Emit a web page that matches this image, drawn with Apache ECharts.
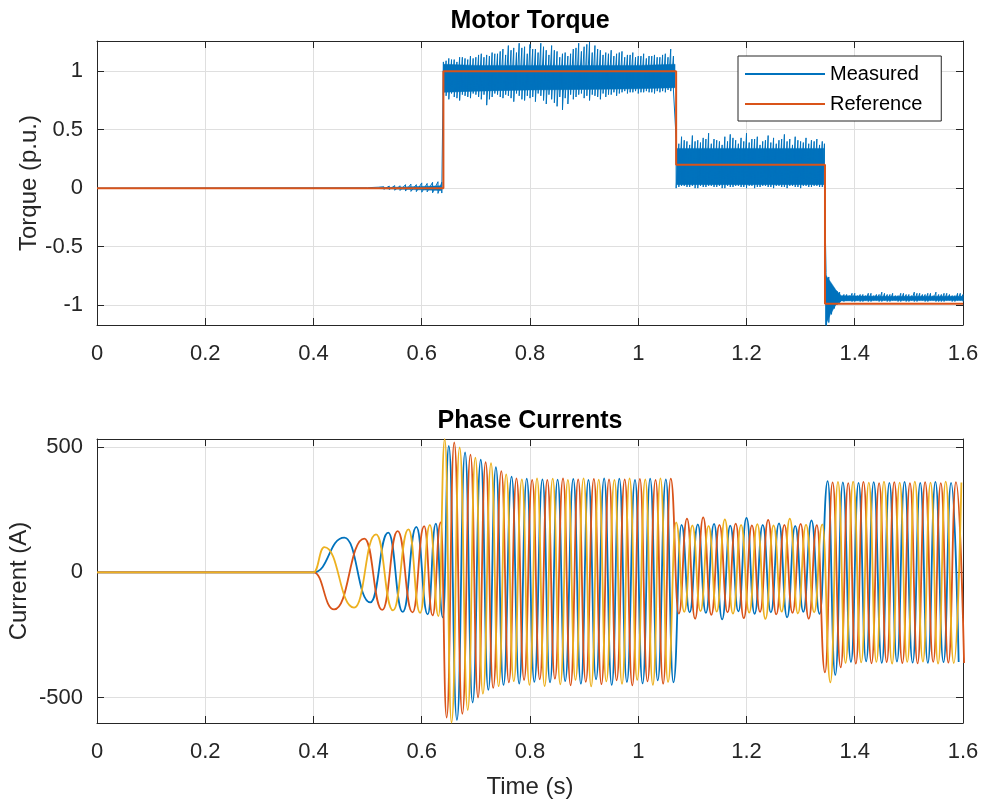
<!DOCTYPE html>
<html><head><meta charset="utf-8">
<script src="https://cdn.jsdelivr.net/npm/echarts@6/dist/echarts.min.js"></script>
<style>html,body{margin:0;padding:0;background:#fff}#c{width:985px;height:804px}</style>
</head><body><div id="c"></div>
<script>
// ---------------- DATA ----------------
// Motor torque, measured: spike tips (hi) and spike bottoms (lo) at sample times (ms)
const tqT = [0,500,510,520,530,540,550,560,570,580,590,600,610,620,630,637,
  640,650,660,670,680,690,700,710,720,730,740,750,760,770,780,790,800,810,820,830,840,850,860,870,880,890,900,910,920,930,940,950,960,970,980,990,1000,1010,1020,1030,1040,1050,1060,1065,
  1070,1080,1090,1100,1110,1120,1130,1140,1150,1160,1170,1180,1190,1200,1210,1220,1230,1240,1250,1260,1270,1280,1290,1300,1310,1320,1330,1340,1344,
  1347,1352,1357,1362,1367,1372,1380,1390,1400,1410,1420,1430,1440,1450,1460,1470,1480,1490,1500,1510,1520,1530,1540,1550,1560,1570,1580,1590,1600];
const tqHi = [0,0.003,0.006,0.008,0.012,0.018,0.022,0.02,0.03,0.035,0.03,0.045,0.04,0.05,0.055,0.05,
  1.08,1.11,1.10,1.12,1.11,1.13,1.12,1.15,1.14,1.16,1.15,1.19,1.22,1.20,1.24,1.21,1.23,1.19,1.24,1.18,1.22,1.17,1.15,1.13,1.19,1.24,1.21,1.25,1.22,1.18,1.16,1.18,1.15,1.17,1.14,1.16,1.13,1.15,1.13,1.14,1.12,1.15,1.19,1.13,
  0.42,0.44,0.40,0.45,0.41,0.43,0.47,0.42,0.40,0.44,0.46,0.41,0.43,0.47,0.42,0.44,0.40,0.45,0.43,0.41,0.46,0.42,0.44,0.40,0.43,0.41,0.42,0.40,0.38,
  -0.72,-0.76,-0.82,-0.86,-0.88,-0.89,-0.91,-0.92,-0.90,-0.91,-0.92,-0.90,-0.91,-0.89,-0.91,-0.90,-0.92,-0.90,-0.91,-0.89,-0.90,-0.91,-0.90,-0.89,-0.91,-0.90,-0.92,-0.90,-0.91];
const tqLo = [0,-0.003,-0.005,-0.008,-0.01,-0.012,-0.018,-0.02,-0.025,-0.028,-0.03,-0.035,-0.032,-0.04,-0.045,-0.042,
  0.80,0.76,0.78,0.75,0.79,0.77,0.80,0.76,0.71,0.78,0.80,0.77,0.79,0.74,0.79,0.75,0.77,0.74,0.79,0.72,0.76,0.70,0.67,0.72,0.76,0.80,0.77,0.75,0.79,0.76,0.78,0.80,0.79,0.82,0.81,0.82,0.81,0.82,0.82,0.81,0.82,0.82,0.83,0.84,
  0.00,0.02,0.01,0.02,0.00,0.01,0.02,0.01,0.02,0.00,0.01,0.02,0.01,0.00,0.02,0.01,0.02,0.01,0.00,0.02,0.01,0.02,0.01,0.00,0.02,0.01,0.02,0.01,0.02,
  -1.25,-1.15,-1.08,-1.03,-1.00,-0.98,-0.97,-0.96,-0.97,-0.97,-0.96,-0.97,-0.96,-0.97,-0.97,-0.96,-0.97,-0.96,-0.97,-0.97,-0.96,-0.97,-0.96,-0.97,-0.97,-0.96,-0.97,-0.96,-0.97];
// In-between (smaller) spikes of the measured torque
const tqT2 = [645,655,665,675,685,695,705,715,725,735,745,755,765,775,785,795,805,815,825,835,845,855,865,875,885,895,905,915,925,935,945,955,965,975,985,995,1005,1015,1025,1035,1045,1055,
  1075,1085,1095,1105,1115,1125,1135,1145,1155,1165,1175,1185,1195,1205,1215,1225,1235,1245,1255,1265,1275,1285,1295,1305,1315,1325,1335,
  1385,1395,1405,1415,1425,1435,1445,1455,1465,1475,1485,1495,1505,1515,1525,1535,1545,1555,1565,1575,1585,1595];
const tqHi2 = [1.09,1.10,1.08,1.12,1.10,1.11,1.14,1.12,1.13,1.15,1.17,1.14,1.18,1.16,1.20,1.15,1.19,1.16,1.21,1.14,1.18,1.12,1.16,1.15,1.20,1.17,1.23,1.16,1.19,1.14,1.15,1.13,1.16,1.12,1.14,1.12,1.13,1.11,1.13,1.12,1.14,1.12,
  0.38,0.41,0.37,0.40,0.39,0.42,0.38,0.41,0.37,0.40,0.43,0.38,0.40,0.39,0.42,0.37,0.41,0.39,0.38,0.42,0.40,0.37,0.41,0.39,0.38,0.40,0.37,
  -0.91,-0.90,-0.92,-0.91,-0.90,-0.92,-0.91,-0.90,-0.91,-0.92,-0.90,-0.91,-0.92,-0.90,-0.91,-0.90,-0.92,-0.91,-0.90,-0.91,-0.92,-0.90];
const tqLo2 = [0.79,0.81,0.77,0.80,0.78,0.81,0.78,0.80,0.76,0.81,0.78,0.80,0.77,0.81,0.76,0.79,0.78,0.81,0.75,0.80,0.73,0.78,0.77,0.80,0.78,0.81,0.79,0.80,0.78,0.81,0.80,0.82,0.81,0.83,0.82,0.83,0.82,0.83,0.82,0.83,0.83,0.84,
  0.01,0.02,0.01,0.00,0.02,0.01,0.02,0.01,0.00,0.02,0.01,0.02,0.01,0.02,0.00,0.01,0.02,0.01,0.02,0.01,0.00,0.02,0.01,0.02,0.01,0.02,0.01,
  -0.96,-0.97,-0.96,-0.97,-0.97,-0.96,-0.97,-0.96,-0.97,-0.96,-0.97,-0.97,-0.96,-0.97,-0.96,-0.97,-0.96,-0.97,-0.97,-0.96,-0.97,-0.96];

// Measured torque dense core band (solid region), per segment
const coreT0 = [0.52,0.58,0.636],  coreHi0 = [0.003,0.012,0.02],  coreLo0 = [-0.003,-0.012,-0.02];
const coreT1 = [0.641,0.70,0.80,0.90,1.00,1.068], coreHi1 = [1.06,1.05,1.05,1.05,1.05,1.06], coreLo1 = [0.82,0.83,0.84,0.845,0.85,0.86];
const coreT2 = [1.071,1.20,1.343], coreHi2 = [0.34,0.34,0.34], coreLo2 = [0.03,0.03,0.03];
const coreT3 = [1.346,1.355,1.365,1.375,1.45,1.6], coreHi3 = [-0.74,-0.80,-0.87,-0.92,-0.925,-0.925], coreLo3 = [-1.17,-1.08,-1.0,-0.965,-0.962,-0.962];

// Torque reference (step profile)
const refT = [0,0.64,0.64,1.07,1.07,1.345,1.345,1.6];
const refV = [0,0,1,1,0.2,0.2,-0.99,-0.99];

// Phase currents: all phases at zero before start
const curStartT = [0, 400];
const curStartV = [0, 0];
// Successive current extrema of all three phases (ms, A); they rotate c, b, a, c, b, a ...
const extT = [420,438,457,475,494,505,515.5,527,538,547,555.5,565,575.5,583,590,597,604.5,611,615,620,626,631,635,639,
  642.5,646,650,655,660,665,670,675,680,685,690,694,699,704,709,713,718,723,728,732,737,742,747,751,756,761,766,770,775,780,
  785,789,794,799,804,808,813,818,823,827,832,837,842,846,851,856,861,865,870,875,880,884,889,894,899,903,908,913,918,922,
  927,932,937,941,946,951,956,960,965,970,975,979,984,989,994,998,1003,1008,1013,1017,1022,1027,1032,1036,1041,1046,1051,1055,1060,1065,
  1070,1075,1080,1085,1090,1095,1100,1105,1110,1115,1120,1125,1130,1135,1140,1145,1150,1155,1160,1165,1170,1175,1180,1185,1190,1195,
  1200,1205,1210,1215,1220,1225,1230,1235,1240,1245,1250,1255,1260,1265,1270,1275,1280,1285,1290,1295,1300,1305,1310,1315,1320,1325,1330,1335,1340,
  1345,1350,1355,1359,1364,1369,1374,1378,1383,1388,1393,1397,1402,1407,1412,1416,1421,1426,1431,1435,1440,1445,1450,1454,1459,1464,1469,
  1473,1478,1483,1488,1492,1497,1502,1507,1511,1516,1521,1526,1530,1535,1540,1545,1549,1554,1559,1564,1568,1573,1578,1583,1587,1592,1597,1602];
const extV = [101,-148,139,-141,135,-120,152,-150,159,-152,165,-158,172,-160,182,-162,185,-168,190,-172,195,-175,200,-180,
  532,-580,505,-600,519,-590,499,-565,479,-550,470,-520,458,-500,450,-485,440,-470,436,-462,420,-455,405,-450,392,-440,383,-435,376,-445,
  372,-430,375,-450,370,-438,376,-428,372,-455,370,-440,375,-425,371,-448,376,-435,370,-452,374,-430,372,-445,376,-438,370,-456,
  374,-428,371,-447,376,-436,372,-450,370,-432,375,-446,372,-438,376,-452,370,-430,374,-444,372,-436,375,-450,370,-432,376,-445,372,-438,375,-440,
  200,-165,190,-158,215,-160,188,-185,192,-155,220,-162,186,-170,194,-157,190,-188,212,-160,187,-165,195,-156,190,-183,218,-161,
  188,-166,193,-158,190,-186,210,-160,188,-168,196,-157,190,-180,215,-162,186,-164,194,-158,191,-185,208,-160,189,-166,192,
  -400,365,-440,360,-410,362,-380,360,-362,357,-358,363,-365,358,-360,362,-356,359,-364,361,-358,357,-362,363,-359,358,-365,
  361,-357,359,-363,362,-358,357,-361,363,-364,358,-357,361,-362,359,-358,362,-365,357,-359,363,-361,358,-363,361,-358,359,-362];

// Axis tick values
const xTicks = [0,0.2,0.4,0.6,0.8,1,1.2,1.4,1.6];
const tqTicks = [-1,-0.5,0,0.5,1];
const curTicks = [-500,0,500];

// ---------------- BUILD ----------------
const FONT = '"Liberation Sans", Arial, Helvetica, sans-serif';
const AX = '#262626';
const GRIDC = '#dfdfdf';
const BLUE = '#0072BD', RED = '#D95319', YEL = '#EDB120';

const samples = [];
tqT.forEach((t, i) => samples.push([t, tqHi[i], tqLo[i]]));
tqT2.forEach((t, i) => samples.push([t, tqHi2[i], tqLo2[i]]));
samples.sort((a, b) => a[0] - b[0]);
const measured = [];
samples.forEach(s => { measured.push([s[0] / 1000, s[1]]); measured.push([s[0] / 1000, s[2]]); });

const coreSegs = [
  {t: coreT0, hi: coreHi0, lo: coreLo0},
  {t: coreT1, hi: coreHi1, lo: coreLo1},
  {t: coreT2, hi: coreHi2, lo: coreLo2},
  {t: coreT3, hi: coreHi3, lo: coreLo3}
];
const reference = refT.map((t, i) => [t, refV[i]]);

const ia = curStartT.map((t, i) => [t / 1000, curStartV[i]]);
const ib = curStartT.map((t, i) => [t / 1000, curStartV[i]]);
const ic = curStartT.map((t, i) => [t / 1000, curStartV[i]]);
const phaseOrder = [ic, ib, ia];
extT.forEach((t, k) => { phaseOrder[k % 3].push([t / 1000, extV[k]]); });

function xAxes(gridIndex, withName) {
  return [{
    type: 'value', gridIndex, min: 0, max: 1.6, position: 'bottom',
    axisLine: {show: true, onZero: false, lineStyle: {color: AX, width: 1}},
    axisTick: {show: true, inside: true, length: 7, customValues: xTicks, lineStyle: {color: AX}},
    axisLabel: {show: true, customValues: xTicks, color: AX, fontSize: 22, fontFamily: FONT, margin: 18},
    splitLine: {show: true, lineStyle: {color: GRIDC, width: 1}},
    name: withName ? 'Time (s)' : '', nameLocation: 'middle', nameGap: 52,
    nameTextStyle: {color: AX, fontSize: 24, fontFamily: FONT}
  }, {
    type: 'value', gridIndex, min: 0, max: 1.6, position: 'top',
    axisLine: {show: true, onZero: false, lineStyle: {color: AX, width: 1}},
    axisTick: {show: true, inside: true, length: 7, customValues: xTicks, lineStyle: {color: AX}},
    axisLabel: {show: false}, splitLine: {show: false}
  }];
}
function yAxes(gridIndex, min, max, ticks, name, gap) {
  return [{
    type: 'value', gridIndex, min, max, position: 'left',
    axisLine: {show: true, onZero: false, lineStyle: {color: AX, width: 1}},
    axisTick: {show: true, inside: true, length: 7, customValues: ticks, lineStyle: {color: AX}},
    axisLabel: {show: true, customValues: ticks, color: AX, fontSize: 22, fontFamily: FONT, margin: 14},
    splitLine: {show: true, lineStyle: {color: GRIDC, width: 1}},
    name, nameLocation: 'middle', nameGap: gap, nameRotate: 90, nameMoveOverlap: false,
    nameTextStyle: {color: AX, fontSize: 24, fontFamily: FONT}
  }, {
    type: 'value', gridIndex, min, max, position: 'right',
    axisLine: {show: true, onZero: false, lineStyle: {color: AX, width: 1}},
    axisTick: {show: true, inside: true, length: 7, customValues: ticks, lineStyle: {color: AX}},
    axisLabel: {show: false}, splitLine: {show: false}
  }];
}

const chart = echarts.init(document.getElementById('c'), null, {renderer: 'canvas'});
chart.setOption({
  animation: false,
  backgroundColor: '#fff',
  title: [
    {text: 'Motor Torque', left: 530, top: 9, textAlign: 'center', padding: 0,
     textStyle: {fontSize: 25, fontWeight: 'bold', color: '#000', fontFamily: FONT}},
    {text: 'Phase Currents', left: 530, top: 409, textAlign: 'center', padding: 0,
     textStyle: {fontSize: 25, fontWeight: 'bold', color: '#000', fontFamily: FONT}}
  ],
  legend: {
    data: ['Measured', 'Reference'], orient: 'vertical', left: 738, top: 56,
    padding: [8, 19, 7, 7], icon: 'rect', itemWidth: 80, itemHeight: 2, itemGap: 10,
    backgroundColor: '#fff', borderColor: AX, borderWidth: 1, borderRadius: 0,
    selectedMode: false, textStyle: {fontSize: 20, lineHeight: 20, color: '#000', fontFamily: FONT}
  },
  grid: [
    {left: 97, top: 41, width: 866, height: 284, containLabel: false, outerBoundsMode: 'none'},
    {left: 97, top: 439, width: 866, height: 284, containLabel: false, outerBoundsMode: 'none'}
  ],
  xAxis: [...xAxes(0, false), ...xAxes(1, true)],
  yAxis: [...yAxes(0, -1.171, 1.259, tqTicks, 'Torque (p.u.)', 56),
          ...yAxes(1, -602, 533, curTicks, 'Current (A)', 66)],
  series: [
    {name: 'Measured', type: 'line', xAxisIndex: 0, yAxisIndex: 0, data: measured,
     symbol: 'none', color: BLUE, lineStyle: {color: BLUE, width: 1}, z: 2, clip: true},
    {name: 'MeasuredCore', type: 'custom', xAxisIndex: 0, yAxisIndex: 0, z: 2,
     data: coreSegs.map((s, i) => [s.t[0], s.lo[0], i]),
     renderItem: (params, api) => {
       const s = coreSegs[params.dataIndex];
       const pts = [];
       for (let i = 0; i < s.t.length; i++) pts.push(api.coord([s.t[i], s.hi[i]]));
       for (let i = s.t.length - 1; i >= 0; i--) pts.push(api.coord([s.t[i], s.lo[i]]));
       return {type: 'polygon', shape: {points: pts}, style: {fill: BLUE, stroke: BLUE, lineWidth: 0.5}};
     }},
    {name: 'Reference', type: 'line', xAxisIndex: 0, yAxisIndex: 0, data: reference,
     symbol: 'none', color: RED, lineStyle: {color: RED, width: 2}, z: 3},
    {name: 'Ia', type: 'line', xAxisIndex: 2, yAxisIndex: 2, data: ia, symbol: 'none',
     smooth: 0.5, smoothMonotone: 'x', color: BLUE, lineStyle: {color: BLUE, width: 1.8}, z: 2, clip: true},
    {name: 'Ib', type: 'line', xAxisIndex: 2, yAxisIndex: 2, data: ib, symbol: 'none',
     smooth: 0.5, smoothMonotone: 'x', color: RED, lineStyle: {color: RED, width: 1.8}, z: 3, clip: true},
    {name: 'Ic', type: 'line', xAxisIndex: 2, yAxisIndex: 2, data: ic, symbol: 'none',
     smooth: 0.5, smoothMonotone: 'x', color: YEL, lineStyle: {color: YEL, width: 1.8}, z: 4, clip: true}
  ]
});
</script></body></html>
